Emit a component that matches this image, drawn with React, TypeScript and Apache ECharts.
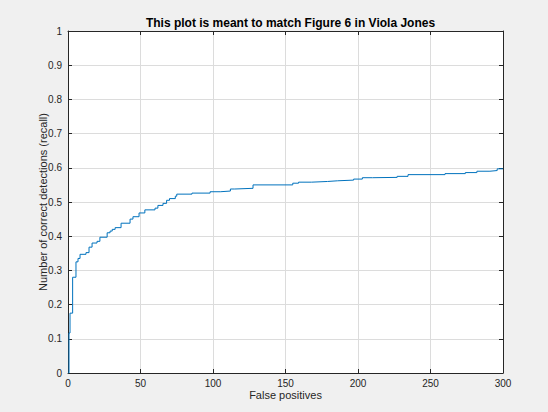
import React, { useEffect, useRef } from "react";
import * as echarts from "echarts";

const titleText = "This plot is meant to match Figure 6 in Viola Jones";
const xName = "False positives";
const yName = "Number of correct detections (recall)";

const falsePositives = [
  0, 0.7, 1.4, 3.2, 5.5, 6.9, 8.3, 12.4, 14.5, 16.6, 20, 22, 27, 29, 30.5, 32.5,
  36.6, 42.8, 44.8, 49, 53, 60, 62, 65.5, 68, 70, 74, 75, 85.5, 98, 105, 112,
  115, 127.6, 155, 159, 168, 179, 186, 197, 203, 210, 227, 234.5, 260, 274, 282,
  291, 296, 300,
];
const recall = [
  0, 0.117, 0.175, 0.28, 0.325, 0.335, 0.347, 0.352, 0.368, 0.38, 0.385, 0.397,
  0.41, 0.415, 0.42, 0.425, 0.438, 0.45, 0.457, 0.468, 0.477, 0.482, 0.49, 0.496,
  0.505, 0.51, 0.517, 0.523, 0.526, 0.53, 0.532, 0.538, 0.54, 0.55, 0.555, 0.558,
  0.56, 0.562, 0.564, 0.567, 0.571, 0.572, 0.575, 0.58, 0.583, 0.586, 0.59, 0.592,
  0.597, 0.597,
];

const FONT = "'Liberation Sans', Arial, Helvetica, sans-serif";
const AXIS = "#262626";

export default function App() {
  const ref = useRef<HTMLDivElement>(null);
  useEffect(() => {
    if (!ref.current) return;
    const chart = echarts.init(ref.current, null, { renderer: "svg" });
    const data = falsePositives.map((x, i) => [x, recall[i]]);
    const common = {
      axisLine: { show: true, onZero: false, lineStyle: { color: AXIS, width: 1 } },
      axisTick: { show: true, inside: true, length: 4, lineStyle: { color: AXIS } },
    };
    chart.setOption({
      animation: false,
      backgroundColor: "#f0f0f0",
      title: {
        text: titleText,
        left: 285.5,
        textAlign: "center",
        top: 12,
        textStyle: { fontFamily: FONT, fontSize: 12, fontWeight: "bold", color: "#000" },
      },
      grid: {
        left: 68,
        right: 45,
        top: 31,
        bottom: 39,
        show: true,
        backgroundColor: "#ffffff",
        borderWidth: 0,
      },
      xAxis: [
        {
          type: "value",
          min: 0,
          max: 300,
          interval: 50,
          position: "bottom",
          name: xName,
          nameLocation: "middle",
          nameGap: 16,
          nameMoveOverlap: false,
          nameTextStyle: { fontFamily: FONT, fontSize: 11, color: AXIS, verticalAlign: "top" },
          ...common,
          axisLabel: { fontFamily: FONT, fontSize: 10, color: AXIS, margin: 5 },
          splitLine: { show: true, lineStyle: { color: "#dcdcdc", width: 1 } },
        },
        {
          type: "value",
          min: 0,
          max: 300,
          interval: 50,
          position: "top",
          ...common,
          axisLabel: { show: false },
          splitLine: { show: false },
        },
      ],
      yAxis: [
        {
          type: "value",
          min: 0,
          max: 1,
          interval: 0.1,
          position: "left",
          name: yName,
          nameLocation: "middle",
          nameGap: 20,
          nameMoveOverlap: false,
          nameTextStyle: { fontFamily: FONT, fontSize: 11, color: AXIS },
          ...common,
          axisLabel: { fontFamily: FONT, fontSize: 10, color: AXIS, margin: 6 },
          splitLine: { show: true, lineStyle: { color: "#dcdcdc", width: 1 } },
        },
        {
          type: "value",
          min: 0,
          max: 1,
          interval: 0.1,
          position: "right",
          ...common,
          axisLabel: { show: false },
          splitLine: { show: false },
        },
      ],
      series: [
        {
          type: "line",
          step: "end",
          data,
          xAxisIndex: 0,
          yAxisIndex: 0,
          showSymbol: false,
          symbol: "none",
          lineStyle: { color: "#0072BD", width: 1 },
          z: 5,
        },
      ],
    });
    return () => chart.dispose();
  }, []);
  return <div ref={ref} style={{ width: 548, height: 412, position: "absolute", left: 0, top: 0 }} />;
}
